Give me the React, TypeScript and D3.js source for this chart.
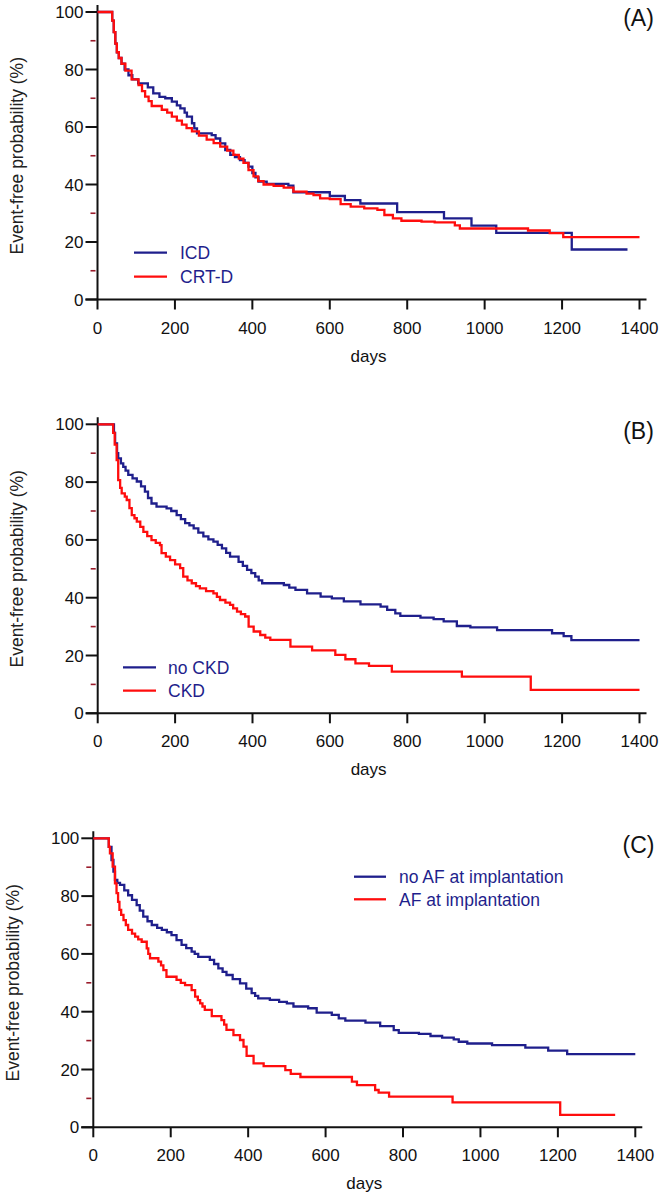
import React from "react";
import * as d3 from "d3";

// ---------- DATA ----------
const xTicks = [0, 200, 400, 600, 800, 1000, 1200, 1400];
const yTicks = [0, 20, 40, 60, 80, 100];
const yMinorTicks = [10, 30, 50, 70, 90];

// Panel A
const icdA: [number, number][] = [
  [0, 100], [38, 97], [42, 93], [46, 89], [50, 86], [55, 84], [62, 82], [70, 80], [80, 78], [90, 76.6],
  [105, 75.2], [130, 73.8], [144, 71.7], [160, 70.5], [175, 70], [192, 68.8], [205, 67.5], [214, 66.5],
  [225, 65], [231, 63.6], [244, 61.3], [250, 59.5], [257, 57.8], [295, 57.2], [305, 56], [317, 54.3],
  [330, 52], [343, 50.3], [355, 49.5], [368, 48.5], [380, 47.5], [390, 46.2], [400, 44], [408, 42.5],
  [416, 41], [437, 40.2], [493, 39.6], [506, 37.3], [600, 36], [639, 34.6], [679, 33.4], [774, 30.4],
  [895, 28.2], [966, 25.7], [1030, 23.2], [1225, 17.4], [1369, 17.4],
];
const crtA: [number, number][] = [
  [0, 100], [38, 97], [42, 93], [46, 89], [50, 86], [55, 84], [62, 82], [72, 79.6], [88, 76.6],
  [106, 74.6], [115, 72.5], [123, 70.6], [132, 69], [140, 67.3], [166, 66], [180, 65], [192, 63.6],
  [205, 62.2], [218, 60.8], [230, 59.6], [244, 58.5], [262, 57], [282, 55.6], [300, 54.4], [317, 53.2],
  [335, 51.8], [351, 50.3], [365, 49], [377, 47.5], [390, 45], [403, 42.8], [415, 41.2], [429, 40],
  [455, 39.5], [481, 38.9], [506, 37.5], [540, 36.8], [558, 36.3], [575, 35.2], [600, 34.9], [628, 33.2],
  [654, 32.3], [689, 31.7], [723, 31.2], [741, 29.4], [763, 28.2], [785, 27.4], [837, 27.1], [871, 26.8],
  [923, 25.8], [936, 24.7], [1112, 24], [1168, 23.1], [1203, 21.7], [1400, 21.7],
];

// Panel B
const noCkdB: [number, number][] = [
  [0, 100], [42, 97], [45, 93.4], [50, 90], [53, 88.2], [60, 86.5], [66, 85.3], [72, 84], [79, 82.5],
  [90, 81.3], [101, 80.2], [112, 78.5], [122, 76.7], [130, 74.5], [139, 72.6], [152, 71.5], [178, 70.9],
  [190, 70], [204, 68.6], [215, 67.2], [226, 65.8], [237, 65], [248, 64], [260, 62.5], [273, 61.2],
  [286, 60.2], [299, 59.4], [310, 58.3], [321, 57.1], [332, 55.5], [342, 54.2], [364, 52.4], [375, 51],
  [386, 49.6], [397, 48.5], [407, 47.3], [416, 46], [425, 45], [481, 44.4], [495, 43.5], [511, 42.7],
  [541, 41.5], [576, 40.4], [605, 39.8], [636, 38.7], [679, 37.7], [731, 36.9], [748, 35.8], [769, 34.6],
  [782, 33.7], [834, 33.1], [868, 32.6], [894, 31.8], [928, 30.2], [963, 29.7], [1032, 28.8],
  [1174, 27.7], [1204, 26.7], [1224, 25.3], [1400, 25.3],
];
const ckdB: [number, number][] = [
  [0, 100], [40, 97], [44, 93], [49, 87.6], [53, 80.7], [58, 78], [62, 76.1], [70, 75], [75, 73.8],
  [82, 71], [88, 68.6], [95, 67.5], [101, 66.3], [110, 64.5], [118, 62.8], [128, 61.3], [139, 59.9],
  [150, 59], [161, 58.2], [165, 55.4], [176, 54.2], [187, 53], [200, 51.5], [213, 50.2], [221, 47.3],
  [232, 46], [243, 45], [254, 44], [264, 43.2], [280, 42.3], [299, 41.5], [308, 40.3], [316, 39.2],
  [330, 38.3], [342, 37.5], [350, 36.3], [360, 35.2], [370, 34.3], [381, 33.5], [390, 30], [403, 28.3],
  [420, 27.1], [433, 26.2], [446, 25.4], [498, 23.1], [554, 21.8], [614, 20.2], [640, 18.7], [666, 17.3],
  [701, 16.4], [760, 14.4], [941, 12.7], [1119, 8.1], [1400, 8.1],
];

// Panel C
const noAfC: [number, number][] = [
  [0, 100], [40, 97], [47, 92.5], [52, 88.5], [56, 85.6], [62, 84.6], [69, 83.9], [80, 82], [90, 80.3],
  [100, 78.7], [112, 76.9], [120, 75], [129, 72.9], [140, 71.3], [151, 70], [165, 69], [177, 68.3],
  [190, 67.5], [202, 66.5], [215, 64.8], [228, 63.1], [240, 62], [254, 60.8], [262, 60], [271, 59],
  [301, 57.9], [312, 56.5], [323, 55], [334, 53.8], [344, 52.7], [360, 51.3], [379, 49.8], [395, 48],
  [409, 46.4], [418, 45.5], [426, 44.6], [456, 44.1], [480, 43.4], [500, 42.9], [517, 41.8], [555, 41.2],
  [577, 39.7], [616, 38.9], [634, 37.7], [651, 36.9], [703, 36.2], [741, 35], [776, 33.6], [789, 32.7],
  [841, 32.3], [871, 31.6], [901, 31], [931, 30.4], [944, 29.6], [966, 29], [1030, 28.4], [1116, 27.6],
  [1175, 26.5], [1224, 25.3], [1400, 25.3],
];
const afC: [number, number][] = [
  [0, 100], [40, 97], [43, 94.8], [50, 90.2], [56, 84.4], [60, 81], [64, 78], [67.5, 75.2], [72, 73.5],
  [78, 71.7], [84, 70], [90, 68.3], [100, 67], [108, 66], [116, 65], [125, 64.2], [138, 61.9], [142, 60],
  [146.5, 58.5], [168, 57.3], [175, 56], [181, 54.4], [189, 52.1], [215, 51], [226, 50], [237, 49.2],
  [254, 47.5], [263, 45.2], [270, 44], [276, 42.9], [282, 41.8], [288, 40.6], [306, 38.5], [331, 37.1],
  [338, 35.5], [344, 33.7], [362, 31.9], [379, 30.2], [388, 27.9], [396, 24.7], [414, 22.1], [440, 21.2],
  [496, 19.8], [510, 18.5], [535, 17.4], [668, 15.8], [681, 14.6], [728, 12.9], [737, 12], [764, 10.6],
  [928, 8.6], [1206, 4.3], [1348, 4.3],
];

const seriesNamesA = ["ICD", "CRT-D"];
const seriesNamesB = ["no CKD", "CKD"];
const seriesNamesC = ["no AF at implantation", "AF at implantation"];
const panelLabels = ["(A)", "(B)", "(C)"];

// ---------- STYLE ----------
const BLUE = "#1f1f8c";
const RED = "#ff0d0d";
const FONT = "'Liberation Sans', Arial, Helvetica, sans-serif";
const TICK_FS = 17;

type Panel = {
  label: string;
  left: number; right: number; top: number; bottom: number;
  series: [number, number][][];
  names: string[];
  legend: { x1: number; x2: number; tx: number; y: number[] };
  ylabX: number;
};

const panels: Panel[] = [
  {
    label: panelLabels[0], left: 97.5, right: 639.5, top: 12, bottom: 299.5,
    series: [icdA, crtA], names: seriesNamesA,
    legend: { x1: 134, x2: 167, tx: 180, y: [252.7, 276.7] }, ylabX: 23,
  },
  {
    label: panelLabels[1], left: 97.7, right: 639.5, top: 424.3, bottom: 713.3,
    series: [noCkdB, ckdB], names: seriesNamesB,
    legend: { x1: 123, x2: 156, tx: 168, y: [667.3, 690.7] }, ylabX: 23,
  },
  {
    label: panelLabels[2], left: 93.3, right: 635.3, top: 838.3, bottom: 1127.3,
    series: [noAfC, afC], names: seriesNamesC,
    legend: { x1: 354, x2: 386, tx: 399, y: [876.7, 899.3] }, ylabX: 19,
  },
];

function KMPanel({ p }: { p: Panel }) {
  const x = d3.scaleLinear().domain([0, 1400]).range([p.left, p.right]);
  const y = d3.scaleLinear().domain([0, 100]).range([p.bottom, p.top]);
  const line = d3
    .line<[number, number]>()
    .x((d) => x(d[0]))
    .y((d) => y(d[1]))
    .curve(d3.curveStepAfter);
  const colors = [BLUE, RED];
  return (
    <g>
      {/* axes */}
      <line x1={p.left} x2={p.left} y1={p.top - 7} y2={p.bottom} stroke="#111" strokeWidth={2} />
      <line x1={p.left - 12} x2={p.right + 7} y1={p.bottom} y2={p.bottom} stroke="#111" strokeWidth={2} />
      {yTicks.map((t) => (
        <g key={"y" + t}>
          <line x1={p.left - 12} x2={p.left} y1={y(t)} y2={y(t)} stroke="#111" strokeWidth={2} />
          <text x={p.left - 14} y={y(t)} dy="0.36em" textAnchor="end" fontSize={TICK_FS} fontFamily={FONT} fill="#111">
            {t}
          </text>
        </g>
      ))}
      {yMinorTicks.map((t) => (
        <line key={"m" + t} x1={p.left - 7} x2={p.left - 2} y1={y(t)} y2={y(t)} stroke="#9a1b2a" strokeWidth={1.6} />
      ))}
      {xTicks.map((t) => (
        <g key={"x" + t}>
          <line x1={x(t)} x2={x(t)} y1={p.bottom} y2={p.bottom + 10} stroke="#111" strokeWidth={2} />
          <text x={x(t)} y={p.bottom + 28} dy="0.36em" textAnchor="middle" fontSize={TICK_FS} fontFamily={FONT} fill="#111">
            {t}
          </text>
        </g>
      ))}
      <text x={(p.left + p.right) / 2} y={p.bottom + 56} dy="0.36em" textAnchor="middle" fontSize={TICK_FS} fontFamily={FONT} fill="#111">
        days
      </text>
      <text
        transform={`translate(${p.ylabX},${(p.top + p.bottom) / 2}) rotate(-90)`}
        textAnchor="middle"
        fontSize={17.5}
        fontFamily={FONT}
        fill="#222"
      >
        Event-free probability (%)
      </text>
      <text x={638.5} y={p.top + 6} dy="0.36em" textAnchor="middle" fontSize={23} fontFamily={FONT} fill="#111">
        {p.label}
      </text>
      {/* curves */}
      {p.series.map((s, i) => (
        <path key={"s" + i} d={line(s) || ""} fill="none" stroke={colors[i]} strokeWidth={2.3} />
      ))}
      {/* legend */}
      {p.names.map((n, i) => (
        <g key={"l" + i}>
          <line x1={p.legend.x1} x2={p.legend.x2} y1={p.legend.y[i]} y2={p.legend.y[i]} stroke={colors[i]} strokeWidth={2.3} />
          <text x={p.legend.tx} y={p.legend.y[i]} dy="0.36em" fontSize={17.5} fontFamily={FONT} fill={BLUE}>
            {n}
          </text>
        </g>
      ))}
    </g>
  );
}

export default function App() {
  return (
    <svg
      width={664}
      height={1197}
      viewBox="0 0 664 1197"
      style={{ position: "absolute", left: 0, top: 0, background: "#fff" }}
    >
      <rect x={0} y={0} width={664} height={1197} fill="#fff" />
      {panels.map((p) => (
        <KMPanel key={p.label} p={p} />
      ))}
    </svg>
  );
}
